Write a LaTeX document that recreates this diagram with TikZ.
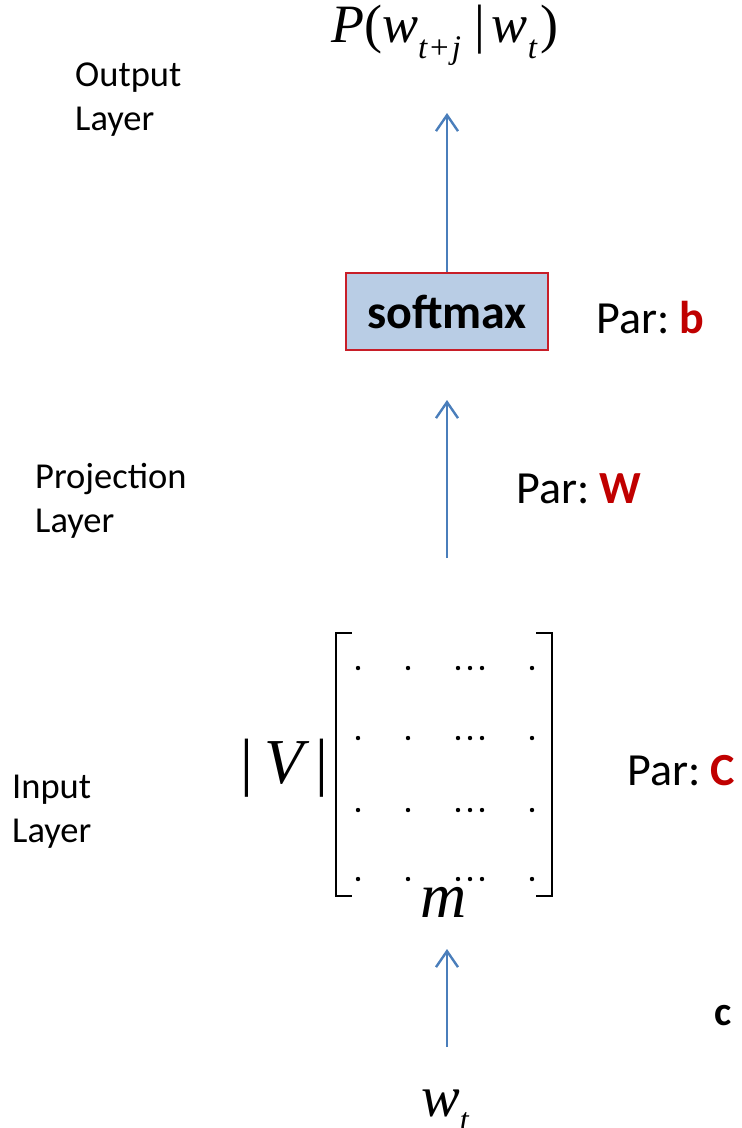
\documentclass[tikz,border=0pt]{standalone}
\usepackage{fontspec}
\setmainfont{Carlito}
\newfontfamily\tms{Liberation Serif}
\usetikzlibrary{positioning,calc,arrows.meta}

\definecolor{flowblue}{RGB}{74,126,187}
\definecolor{boxfill}{RGB}{185,205,229}
\definecolor{boxline}{RGB}{200,30,40}
\definecolor{parred}{RGB}{192,0,0}

\newcommand{\vi}[1]{{\tms\itshape #1}}
\newcommand{\parof}[1]{Par:\hspace{10pt}{\bfseries\color{parred}#1}}

\tikzset{
  layer/.style={anchor=base west, align=left, inner sep=0pt, font=\fontsize{36.5}{44}\selectfont},
  parlab/.style={anchor=base west, inner sep=0pt, font=\fontsize{46}{56}\selectfont},
  flow/.style={draw=flowblue, line width=2.4pt, -{Straight Barb[length=16pt,width=22pt]}},
  bracket/.style={line width=2pt},
}

\begin{document}
\begin{tikzpicture}[x=1pt,y=-1pt]
    \useasboundingbox (0,0) rectangle (742,1128);

    %coordinates
    \coordinate (outtip)  at (447,113);
    \coordinate (projbot) at (447,558);
    \coordinate (projtip) at (447,400);
    \coordinate (inbot)   at (447,1047);
    \coordinate (intip)   at (447,949);

    %layer names (base = last line)
    \node[layer] (outlayer)  at (75,130) {Output\\Layer};
    \node[layer] (projlayer) at (35,532) {Projection\\Layer};
    \node[layer] (inlayer)   at (12,842) {Input\\Layer};

    %nodes
    \node[anchor=base, inner sep=0pt, font=\fontsize{54}{60}\selectfont] (prob) at (445,42)
        {\vi{P}\tms(\vi{w}\raisebox{-16pt}{\fontsize{33}{36}\selectfont\vi{t}\hspace{3pt}\tms{+}\hspace{3pt}\vi{j}}\hspace{14pt}\tms|\hspace{6pt}\vi{w}\raisebox{-16pt}{\fontsize{33}{36}\selectfont\vi{t}}\hspace{4pt}\tms)};
    \node[draw=boxline, fill=boxfill, line width=1.5pt, minimum width=202pt, minimum height=77pt,
          font=\fontsize{48}{56}\selectfont\bfseries] (softmax) at (447,311.5) {softmax};
    \node[minimum width=216pt, minimum height=263pt, inner sep=0pt] (C) at (444,764.5) {};
    \node[anchor=base east, inner sep=0pt, font=\fontsize{64}{70}\selectfont\tms] (V) at (329,783) {|\hspace{12pt}\vi{V}\hspace{12pt}|};
    \node[anchor=base, inner sep=0pt, font=\fontsize{64}{70}\selectfont] (m) at (444,917) {\vi{m}};
    \node[anchor=base, inner sep=0pt, font=\fontsize{58}{64}\selectfont] (wt) at (445,1116)
        {\vi{w}\raisebox{-14pt}{\fontsize{32}{36}\selectfont\vi{t}}};

    \node[parlab] (parb) at (596,333) {\parof{b}};
    \node[parlab] (parW) at (516,503) {\parof{W}};
    \node[parlab] (parC) at (627,785) {\parof{C}};
    \node[anchor=base west, inner sep=0pt, font=\fontsize{41}{44}\selectfont\bfseries] (cvec) at (714,1025) {c};

    %matrix
    \draw[bracket] ($(C.north west)+(16,0)$) -- (C.north west) -- (C.south west) -- ($(C.south west)+(16,0)$);
    \draw[bracket] ($(C.north east)+(-16,0)$) -- (C.north east) -- (C.south east) -- ($(C.south east)+(-16,0)$);
    \foreach \r in {668,738,810,879}{
        \foreach \c in {358,408,458,470,482,532}{
            \fill (\c,\r) circle (2.2);
        }
    }

    %edges
    \draw[flow] (softmax.north) -- (outtip);
    \draw[flow] (projbot) -- (projtip);
    \draw[flow] (inbot) -- (intip);
  \end{tikzpicture}
\end{document}
